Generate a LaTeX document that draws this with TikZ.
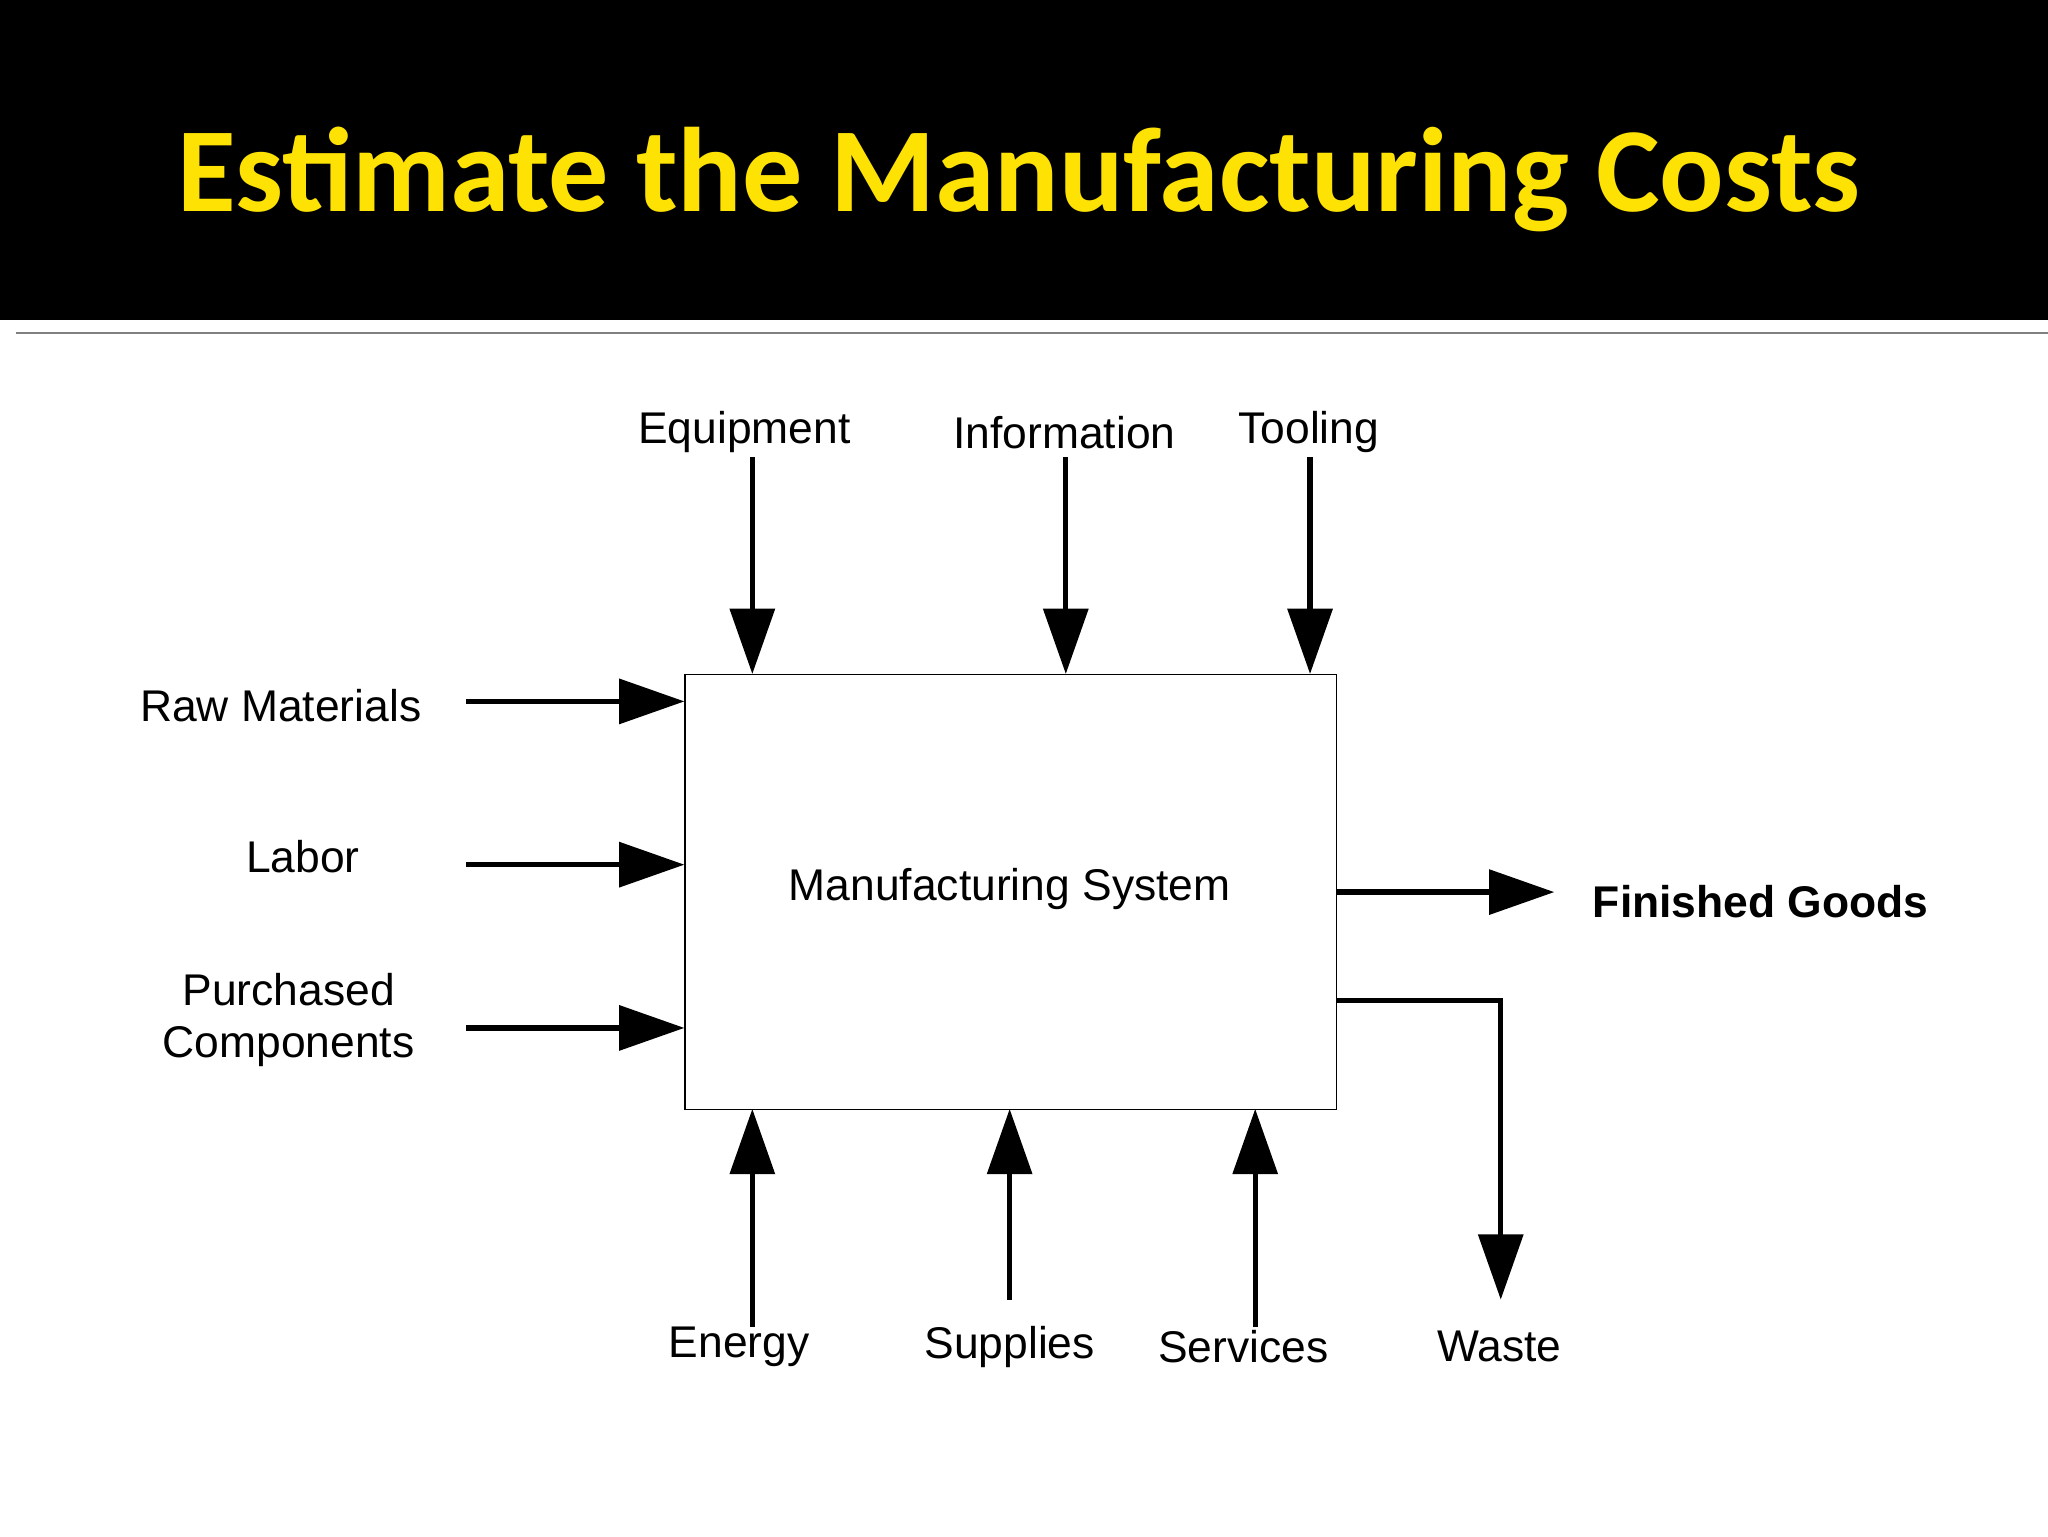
\documentclass[tikz,border=0pt]{standalone}
\usepackage{fontspec}
\setmainfont{Liberation Sans}
\newfontfamily\titlefont{Carlito}
\usetikzlibrary{arrows.meta}
\begin{document}
\begin{tikzpicture}[x=1pt,y=-1pt,
  lbl/.style={font=\fontsize{34}{40}\selectfont},
  flow/.style={line width=4pt,-{Triangle[length=50pt,width=34pt]}}]
\useasboundingbox (0,0) rectangle (1568,1176);
\fill[white] (0,0) rectangle (1568,1176);
\fill[black] (0,0) rectangle (1568,245);
\node[anchor=base,text=yellow!85!orange,font=\titlefont\bfseries\fontsize{92}{100}\selectfont] (title) at (780,162) {Estimate the Manufacturing Costs};
\draw[gray,line width=1.5pt] (12,255) -- (1568,255);
\node[draw,line width=1pt,minimum width=499pt,minimum height=333pt,anchor=north west,inner sep=0] (box) at (524,516) {};
\node[lbl] (ms) at (773,681) {Manufacturing System};
% top
\node[lbl] (eq) at (570,331) {Equipment};
\node[lbl] (inf) at (815,331) {Information};
\node[lbl] (tool) at (1002,331) {Tooling};
\coordinate (eqs) at (576,350); \coordinate (eqe) at (576,516);
\coordinate (ins) at (816,350); \coordinate (ine) at (816,516);
\coordinate (tos) at (1003,350); \coordinate (toe) at (1003,516);
\draw[flow] (eqs) -- (eqe);
\draw[flow] (ins) -- (ine);
\draw[flow] (tos) -- (toe);
% left
\node[lbl] (raw) at (215,540) {Raw Materials};
\node[lbl] (lab) at (232,656) {Labor};
\node[lbl,align=center] (pc) at (221,781) {Purchased\\Components};
\foreach \y/\n in {537/a,662/b,787/c}{
  \coordinate (l\n s) at (357,\y); \coordinate (l\n e) at (524,\y);
  \draw[flow] (l\n s) -- (l\n e);}
% right
\coordinate (fgs) at (1023,683); \coordinate (fge) at (1190,683);
\draw[flow] (fgs) -- (fge);
\node[lbl,anchor=west,font=\bfseries\fontsize{34}{40}\selectfont] (fg) at (1216,690) {Finished Goods};
\coordinate (ws) at (1023,766); \coordinate (wc) at (1149,766); \coordinate (we) at (1149,995);
\draw[flow] (ws) -- (wc) -- (we);
% bottom
\node[lbl] (en) at (566,1031) {Energy};
\node[lbl] (su) at (773,1031) {Supplies};
\node[lbl] (se) at (952,1031) {Services};
\node[lbl] (wa) at (1148,1031) {Waste};
\coordinate (ens) at (576,1016); \coordinate (ene) at (576,849);
\coordinate (sus) at (773,995); \coordinate (sue) at (773,849);
\coordinate (ses) at (961,1016); \coordinate (see) at (961,849);
\draw[flow] (ens) -- (ene);
\draw[flow] (sus) -- (sue);
\draw[flow] (ses) -- (see);
\end{tikzpicture}
\end{document}
